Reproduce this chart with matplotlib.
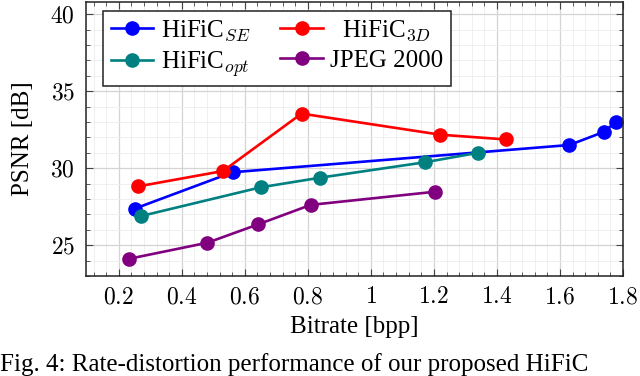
import numpy as np
import matplotlib.pyplot as plt
from matplotlib.ticker import MultipleLocator, FuncFormatter

plt.rcParams['font.family'] = ['Liberation Serif', 'DejaVu Serif']
plt.rcParams['mathtext.fontset'] = 'cm'

# HiFiC_SE
se_x = [0.25, 0.561, 1.63, 1.739, 1.778]
se_y = [27.37, 29.74, 31.51, 32.36, 33.02]
# HiFiC_3D
d3_x = [0.261, 0.531, 0.78, 1.22, 1.429]
d3_y = [28.82, 29.82, 33.55, 32.18, 31.87]
# HiFiC_opt
opt_x = [0.272, 0.65, 0.84, 1.172, 1.339]
opt_y = [26.9, 28.76, 29.39, 30.39, 31.0]
# JPEG 2000
jp_x = [0.233, 0.481, 0.643, 0.809, 1.202]
jp_y = [24.12, 25.16, 26.36, 27.62, 28.47]

labels = ['HiFiC$_{SE}$', '  HiFiC$_{3D}$', 'HiFiC$_{opt}$', 'JPEG 2000']
colors = ['#0000ff', '#ff0000', '#008080', '#800080']

fig = plt.figure(figsize=(6.4, 3.76), dpi=100)
ax = fig.add_axes([86/640, 1-276/376, (623-86)/640, (276-2)/376])

series = [(se_x, se_y), (d3_x, d3_y), (opt_x, opt_y), (jp_x, jp_y)]
lines = []
for (xs, ys), c, lab in zip(series, colors, labels):
    ln, = ax.plot(xs, ys, '-o', color=c, lw=1.9, ms=9.5, label=lab, clip_on=False)
    lines.append(ln)

ax.set_xlim(0.096, 1.8)
ax.set_ylim(23.0, 40.8)
ax.xaxis.set_major_locator(MultipleLocator(0.2))
ax.xaxis.set_minor_locator(MultipleLocator(0.04))
ax.yaxis.set_major_locator(MultipleLocator(5))
ax.yaxis.set_minor_locator(MultipleLocator(1))
fmt = FuncFormatter(lambda v, p: f'${v:g}$')
ax.xaxis.set_major_formatter(fmt)
ax.yaxis.set_major_formatter(fmt)

ax.grid(which='major', color='#d4d4d4', lw=0.9)
ax.grid(which='minor', color='#ededed', lw=0.6)
ax.set_axisbelow(True)
ax.tick_params(which='both', direction='in', top=True, right=True, color='#444444')
ax.tick_params(which='major', length=5, width=0.8, labelsize=17, pad=8)
ax.tick_params(which='minor', length=3, width=0.6)
for s in ax.spines.values():
    s.set_color('#222222')
    s.set_linewidth(1.1)

ax.set_xlabel('Bitrate [bpp]', fontsize=18, labelpad=6)
ax.set_ylabel('PSNR [dB]', fontsize=18, labelpad=12)

# row-major legend order: SE, 3D / opt, JPEG
order = [0, 2, 1, 3]
leg = ax.legend([lines[i] for i in order], [labels[i] for i in order],
                loc='upper left', ncol=2, fontsize=18, frameon=True, fancybox=False,
                edgecolor='#222222', framealpha=1, borderpad=0.3, handlelength=1.7,
                handletextpad=0.3, columnspacing=1.2, labelspacing=0.25,
                bbox_to_anchor=(0.032, 0.968), borderaxespad=0)
leg.get_frame().set_linewidth(1.1)

fig.text(0.0, 0.0, 'Fig. 4: Rate-distortion performance of our proposed HiFiC',
         fontsize=18, va='bottom', ha='left')

fig.savefig('out.png', dpi=100)
